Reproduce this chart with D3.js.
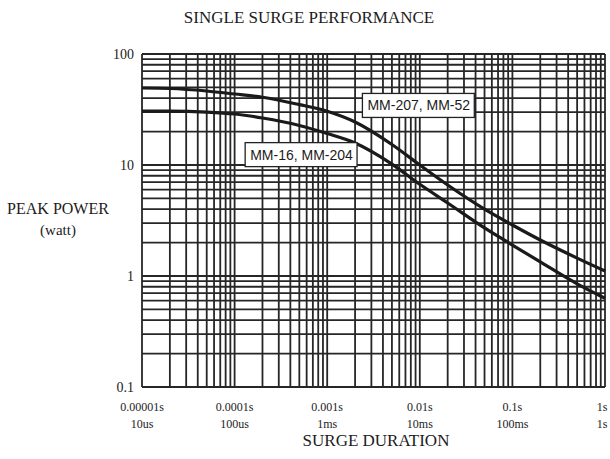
<!DOCTYPE html>
<html>
<head>
<meta charset="utf-8">
<script src="https://cdn.jsdelivr.net/npm/d3@7"></script>
<style>
  body { margin: 0; background: #fff; }
  svg { display: block; }
</style>
</head>
<body>
<div id="chart"></div>
<script>
// surge duration (s) and peak power (W)
const durations = [1e-5, 2e-5, 5e-5, 1e-4, 2e-4, 5e-4, 1e-3, 2e-3, 5e-3, 1e-2, 2e-2, 5e-2, 0.1, 0.2, 0.5, 1];
const mm207 = [49.4, 48.9, 46.4, 43.6, 40.8, 35.0, 30.5, 24.4, 15.3, 10.0, 6.6, 4.0, 2.88, 2.11, 1.45, 1.11];
const mm16 = [30.6, 30.6, 30.0, 28.8, 26.5, 22.7, 19.2, 15.8, 10.2, 6.7, 4.55, 2.71, 1.90, 1.34, 0.85, 0.63];

const seriesNames = ["MM-207, MM-52", "MM-16, MM-204"];
// where the label boxes sit: [left edge duration, power at box centre]
const labelAnchors = [[2.4e-3, 34.4], [1.3e-4, 12.4]];

const xTicks = [1e-5, 1e-4, 1e-3, 1e-2, 1e-1, 1];
const xTickTop = ["0.00001s", "0.0001s", "0.001s", "0.01s", "0.1s", "1s"];
const xTickBottom = ["10us", "100us", "1ms", "10ms", "100ms", "1s"];
const yTicks = [0.1, 1, 10, 100];
const yTickLabels = ["0.1", "1", "10", "100"];

var W = 610, H = 459;
var margin = { top: 54, right: 5, bottom: 72, left: 142 };

var svg = d3.select("#chart")
    .append("svg")
    .attr("width", W)
    .attr("height", H);

var x = d3.scaleLog()
    .domain([1e-5, 1])
    .range([margin.left, W - margin.right]);

var y = d3.scaleLog()
    .domain([0.1, 100])
    .range([H - margin.bottom, margin.top]);

var serif = "'Liberation Serif', 'DejaVu Serif', serif";
var ink = "#1c1c1c";

/*   Log grid   */
var grid = svg.append("g")
    .attr("stroke", "#262626")
    .attr("stroke-width", 1.8);

grid.selectAll("line.v")
    .data(x.ticks())
    .enter()
    .append("line")
    .attr("x1", d => x(d)).attr("x2", d => x(d))
    .attr("y1", y(0.1)).attr("y2", y(100));

grid.selectAll("line.h")
    .data(y.ticks())
    .enter()
    .append("line")
    .attr("x1", x(1e-5)).attr("x2", x(1))
    .attr("y1", d => y(d)).attr("y2", d => y(d));

/*   Curves   */
var line = d3.line()
    .x((d, i) => x(durations[i]))
    .y(d => y(d))
    .curve(d3.curveMonotoneX);

svg.selectAll("path.curve")
    .data([mm207, mm16])
    .enter()
    .append("path")
    .attr("fill", "none")
    .attr("stroke", "#1a1a1a")
    .attr("stroke-width", 3.2)
    .attr("d", line);

/*   Curve labels   */
labelAnchors.forEach(function (a, i) {
    var g = svg.append("g")
        .attr("transform", "translate(" + x(a[0]) + "," + y(a[1]) + ")");
    var t = g.append("text")
        .attr("x", 5)
        .attr("y", 5)
        .attr("font-family", "'Liberation Sans', Arial, sans-serif")
        .attr("font-size", 14)
        .attr("fill", "#1c1c1c")
        .text(seriesNames[i]);
    var bb = t.node().getBBox();
    g.insert("rect", "text")
        .attr("x", 0)
        .attr("y", -12)
        .attr("width", bb.width + 9)
        .attr("height", 24)
        .attr("fill", "#fff")
        .attr("stroke", "#222")
        .attr("stroke-width", 1.3);
});

/*   Axis labels   */
svg.selectAll("text.ytick")
    .data(yTicks)
    .enter()
    .append("text")
    .attr("x", margin.left - 8)
    .attr("y", d => y(d) + 5)
    .attr("text-anchor", "end")
    .attr("font-family", serif)
    .attr("font-size", 14)
    .attr("fill", ink)
    .text((d, i) => yTickLabels[i]);

var xl = svg.selectAll("g.xtick")
    .data(xTicks)
    .enter()
    .append("g")
    .attr("transform", d => "translate(" + Math.min(x(d), W - 8) + ",0)");

xl.append("text")
    .attr("y", 411)
    .attr("text-anchor", "middle")
    .attr("font-family", serif)
    .attr("font-size", 12)
    .attr("fill", ink)
    .text((d, i) => xTickTop[i]);

xl.append("text")
    .attr("y", 428)
    .attr("text-anchor", "middle")
    .attr("font-family", serif)
    .attr("font-size", 12)
    .attr("fill", ink)
    .text((d, i) => xTickBottom[i]);

svg.append("text")
    .attr("x", 376)
    .attr("y", 446)
    .attr("text-anchor", "middle")
    .attr("font-family", serif)
    .attr("font-size", 17)
    .attr("fill", ink)
    .text("SURGE DURATION");

svg.append("text")
    .attr("x", 309)
    .attr("y", 23)
    .attr("text-anchor", "middle")
    .attr("font-family", serif)
    .attr("font-size", 17)
    .attr("fill", ink)
    .text("SINGLE SURGE PERFORMANCE");

svg.append("text")
    .attr("x", 58)
    .attr("y", 214)
    .attr("text-anchor", "middle")
    .attr("font-family", serif)
    .attr("font-size", 16)
    .attr("fill", ink)
    .text("PEAK POWER");

svg.append("text")
    .attr("x", 58)
    .attr("y", 235)
    .attr("text-anchor", "middle")
    .attr("font-family", serif)
    .attr("font-size", 15)
    .attr("fill", ink)
    .text("(watt)");
</script>
</body>
</html>
